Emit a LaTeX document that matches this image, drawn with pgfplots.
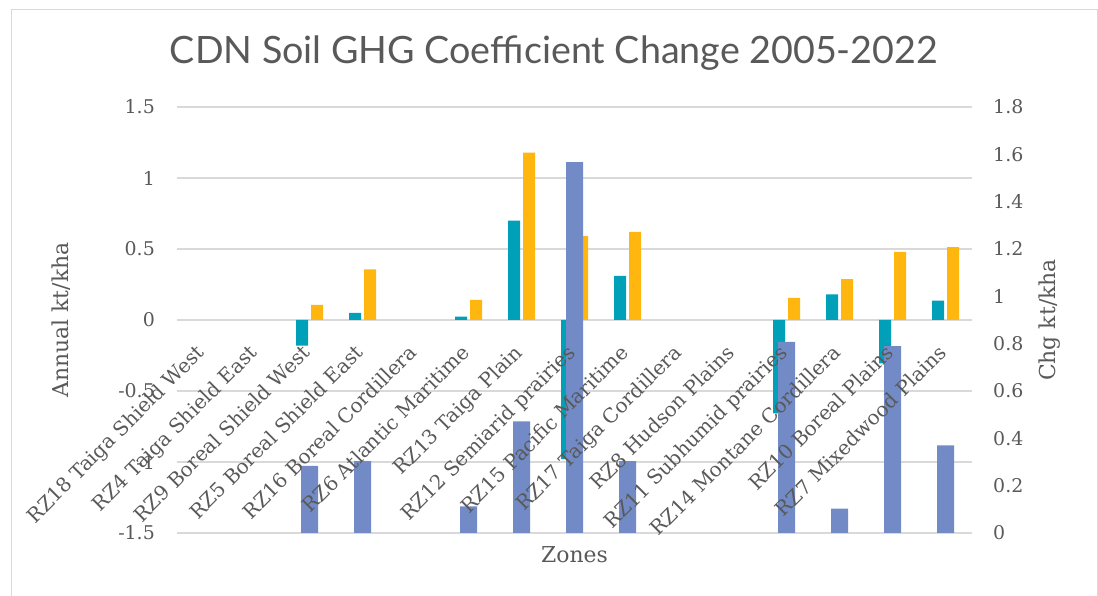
\documentclass[border=0pt]{standalone}
\usepackage{pgfplots}
\pgfplotsset{compat=1.18}
\usepackage{fontspec}
\setmainfont{DejaVu Serif}
\newfontfamily\latofont{Lato}
\definecolor{txt}{RGB}{89,89,89}
\definecolor{gridc}{RGB}{217,217,217}
\definecolor{tealc}{RGB}{0,161,184}
\definecolor{orangec}{RGB}{255,182,14}
\definecolor{bluec}{RGB}{114,139,198}
\pgfplotsset{
  common/.style={
    at={(177bp,63bp)}, anchor=south west, scale only axis,
    width=795bp, height=426bp,
    xmin=-0.5, xmax=14.5,
    axis line style={draw=none}, major tick length=0pt,
    /pgf/number format/assume math mode=true,
  }
}
\begin{document}
\begin{tikzpicture}
\path[use as bounding box] (0,0) rectangle (1098bp,596bp);
\draw[gridc, line width=1bp] (11bp,-20bp) -- (11bp,586.5bp) -- (1097bp,586.5bp) -- (1097bp,-20bp);
\node[font=\latofont\fontsize{37.8}{44}\selectfont, text=txt] at (554bp,543bp) {CDN Soil GHG Coefficient Change 2005-2022};

% primary axis
\begin{axis}[common,
  ymin=-1.5, ymax=1.5,
  axis x line=none, axis y line*=left,
  ytick={-1.5,-1,-0.5,0,0.5,1,1.5},
  yticklabel style={font=\fontsize{19}{22}\selectfont, text=txt, inner sep=0pt, xshift=-22bp},
  ymajorgrids, grid style={gridc, line width=1.3bp},
  ybar=3bp, bar width=12bp,
  ylabel={Annual kt/kha},
  every axis y label/.style={at={(axis description cs:-0.146,0.5)}, rotate=90, anchor=center, font=\fontsize{22}{26}\selectfont, text=txt},
]
\addplot[fill=tealc, draw=none] coordinates {(2,-0.18) (3,0.05) (5,0.023) (6,0.70) (7,-0.98) (8,0.31) (11,-0.657) (12,0.18) (13,-0.305) (14,0.136)};
\addplot[fill=orangec, draw=none] coordinates {(2,0.106) (3,0.357) (5,0.141) (6,1.178) (7,0.59) (8,0.62) (11,0.155) (12,0.287) (13,0.48) (14,0.514)};
\end{axis}

% secondary axis
\begin{axis}[common,
  ymin=0, ymax=1.8,
  axis x line=none, axis y line*=right,
  ytick={0,0.2,0.4,0.6,0.8,1,1.2,1.4,1.6,1.8},
  yticklabel style={font=\fontsize{19}{22}\selectfont, text=txt, inner sep=0pt, anchor=west, xshift=21bp},
  ybar, bar width=17bp,
  ylabel={Chg kt/kha},
  every axis y label/.style={at={(axis description cs:1.098,0.5)}, rotate=90, anchor=center, font=\fontsize{22}{26}\selectfont, text=txt},
]
\addplot[fill=bluec, draw=none] coordinates {(2,0.284) (3,0.304) (5,0.113) (6,0.472) (7,1.567) (8,0.304) (11,0.808) (12,0.103) (13,0.79) (14,0.37)};
\end{axis}

% labels on top
\begin{axis}[common,
  ymin=-1.5, ymax=1.5,
  axis x line*=middle, axis y line=none, ytick=\empty,
  xtick={0,...,14},
  xticklabels={RZ18 Taiga Shield West, RZ4 Taiga Shield East, RZ9 Boreal Shield West, RZ5 Boreal Shield East, RZ16 Boreal Cordillera, RZ6 Atlantic Maritime, RZ13 Taiga Plain, RZ12 Semiarid prairies, RZ15 Pacific Maritime, RZ17 Taiga Cordillera, RZ8 Hudson Plains, RZ11 Subhumid prairies, RZ14 Montane Cordillera, RZ10 Boreal Plains, RZ7 Mixedwood Plains},
  xticklabel style={font=\fontsize{20}{24}\selectfont, text=txt, inner sep=0pt, yshift=-23bp, xshift=-8.7bp, rotate=45, anchor=north east},
  xlabel={Zones},
  every axis x label/.style={at={(axis description cs:0.5,-0.052)}, anchor=center, font=\fontsize{22}{26}\selectfont, text=txt},
]
\addplot[draw=none] coordinates {(0,0)};
\end{axis}
\end{tikzpicture}
\end{document}
